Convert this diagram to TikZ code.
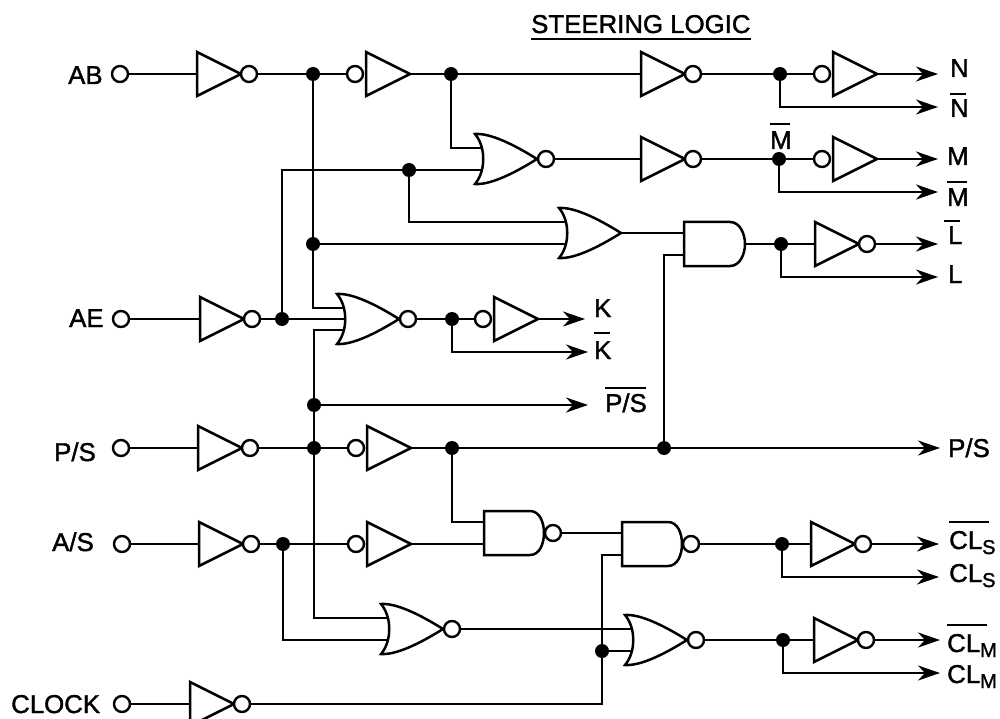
\documentclass[tikz,border=0pt]{standalone}
\usepackage{fontspec}
\setmainfont{Liberation Sans}[FakeBold=1.5]
\usetikzlibrary{arrows.meta}
\newcommand\ovbar[3]{\vbox{\hrule width #1 height 2.2pt \kern #2 \hbox{#3}}}
\newcommand\subs[1]{\raisebox{-5pt}{\fontsize{20}{20}\selectfont #1}}
\tikzset{
  x=1pt,y=-1pt,
  wire/.style={line width=2.4pt,line join=miter},
  sig/.style={wire,-{Stealth[length=22pt,width=15pt,inset=7pt]}},
  gatebody/.style={line width=2.5pt,draw=black,fill=white,line join=miter},
  bubble/.style={line width=2.4pt,draw=black,fill=white},
  pinn/.style={circle,draw=black,fill=white,line width=2.4pt,minimum size=16pt,inner sep=0pt},
  dotn/.style={circle,fill=black,minimum size=14pt,inner sep=0pt},
  lab/.style={inner sep=0pt,anchor=base west,font=\fontsize{25.8}{30}\selectfont},
  invr/.pic={
    \draw[gatebody] (0,-22) -- (44,0) -- (0,22) -- cycle;
    \draw[bubble] (52,0) circle (8);
    \coordinate (-in) at (0,0);
    \coordinate (-out) at (60,0);
  },
  invl/.pic={
    \draw[gatebody] (0,-22) -- (44,0) -- (0,22) -- cycle;
    \draw[bubble] (-11,0) circle (8);
    \coordinate (-in) at (-19,0);
    \coordinate (-out) at (44,0);
  },
  orbody/.pic={
    \draw[gatebody] (0,-25) .. controls (15,-26) and (38,-15) .. (62,0)
      .. controls (38,15) and (15,26) .. (0,25)
      .. controls (11,12) and (11,-12) .. (0,-25) -- cycle;
    \coordinate (-a) at (6,-11);
    \coordinate (-b) at (6,11);
    \coordinate (-m) at (8,0);
    \coordinate (-out) at (62,0);
  },
  norbody/.pic={
    \draw[gatebody] (0,-25) .. controls (15,-26) and (38,-15) .. (62,0)
      .. controls (38,15) and (15,26) .. (0,25)
      .. controls (11,12) and (11,-12) .. (0,-25) -- cycle;
    \draw[bubble] (71,0) circle (8);
    \coordinate (-a) at (6,-11);
    \coordinate (-b) at (6,11);
    \coordinate (-m) at (8,0);
    \coordinate (-out) at (79,0);
  },
  andbody/.pic={
    \draw[gatebody] (0,-22) -- (46,-22) .. controls (56,-22) and (61,-10) .. (61,0)
      .. controls (61,10) and (56,22) .. (46,22) -- (0,22) -- cycle;
    \coordinate (-a) at (0,-11);
    \coordinate (-b) at (0,11);
    \coordinate (-out) at (61,0);
  },
  nandbody/.pic={
    \draw[gatebody] (0,-22) -- (46,-22) .. controls (56,-22) and (60,-10) .. (60,0)
      .. controls (60,10) and (56,22) .. (46,22) -- (0,22) -- cycle;
    \draw[bubble] (69,0) circle (8);
    \coordinate (-a) at (0,-11);
    \coordinate (-b) at (0,11);
    \coordinate (-out) at (77,0);
  },
}
\begin{document}
\begin{tikzpicture}
\clip (0,0) rectangle (1000,719);
\fill[white] (0,0) rectangle (1000,719);

% input pins
\node[pinn] (inab) at (120,74) {};
\node[pinn] (inae) at (121,319) {};
\node[pinn] (inps) at (121,448) {};
\node[pinn] (inas) at (122,544) {};
\node[pinn] (inck) at (122,704) {};

% junction dots
\node[dotn] (d1) at (313,74) {};
\node[dotn] (d2) at (451,74) {};
\node[dotn] (d3) at (780,74) {};
\node[dotn] (d4) at (779,159) {};
\node[dotn] (d5) at (282,319) {};
\node[dotn] (d6) at (409,170) {};
\node[dotn] (d7) at (313,244) {};
\node[dotn] (d8) at (781,244) {};
\node[dotn] (d9) at (314,405) {};
\node[dotn] (d10) at (314,448) {};
\node[dotn] (d11) at (452,319) {};
\node[dotn] (d12) at (452,448) {};
\node[dotn] (d13) at (664,448) {};
\node[dotn] (d14) at (283,544) {};
\node[dotn] (d15) at (602,651) {};
\node[dotn] (d16) at (782,544) {};
\node[dotn] (d17) at (783,640) {};

% gates
\pic (g1) at (197,74) {invr};
\pic (g2) at (366,74) {invl};
\pic (g3) at (641,74) {invr};
\pic (g4) at (833,74) {invl};
\pic (g5) at (641,159) {invr};
\pic (g6) at (833,159) {invl};
\pic (g7) at (815,244) {invr};
\pic (g8) at (200,319) {invr};
\pic (g9) at (494,319) {invl};
\pic (g10) at (198,448) {invr};
\pic (g11) at (367,448) {invl};
\pic (g12) at (199,544) {invr};
\pic (g13) at (367,544) {invl};
\pic (g14) at (190,704) {invr};
\pic (g15) at (811,544) {invr};
\pic (g16) at (814,640) {invr};
\pic (nor1) at (475,159) {norbody};
\pic (or1) at (559,233) {orbody};
\pic (and1) at (684,244) {andbody};
\pic (nor2) at (337,319) {norbody};
\pic (nand1) at (484,533) {nandbody};
\pic (nand2) at (622,544) {nandbody};
\pic (nor3) at (381,629) {norbody};
\pic (nor4) at (625,640) {norbody};

% arrow targets
\coordinate (tN) at (938,74);
\coordinate (tNb) at (938,107);
\coordinate (tM) at (938,159);
\coordinate (tMb) at (938,192);
\coordinate (tLb) at (938,244);
\coordinate (tL) at (938,277);
\coordinate (tK) at (585,319);
\coordinate (tKb) at (588,352);
\coordinate (tPSb) at (588,405);
\coordinate (tPS) at (940,448);
\coordinate (tCSb) at (939,544);
\coordinate (tCS) at (939,577);
\coordinate (tCMb) at (940,640);
\coordinate (tCM) at (940,673);

% wires
\draw[wire] (inab) -- (g1-in);
\draw[wire] (g1-out) -- (d1);
\draw[wire] (d1) -- (g2-in);
\draw[wire] (g2-out) -- (d2);
\draw[wire] (d2) -- (g3-in);
\draw[wire] (g3-out) -- (d3);
\draw[wire] (d3) -- (g4-in);
\draw[sig] (g4-out) -- (tN);
\draw[sig] (d3) |- (tNb);
\draw[wire] (d2) |- (nor1-a);
\draw[wire] (d6) -- (nor1-b);
\draw[wire] (nor1-out) -- (g5-in);
\draw[wire] (g5-out) -- (d4);
\draw[wire] (d4) -- (g6-in);
\draw[sig] (g6-out) -- (tM);
\draw[sig] (d4) |- (tMb);
\draw[wire] (d5) |- (d6);
\draw[wire] (d6) |- (or1-a);
\draw[wire] (d7) -- (or1-b);
\draw[wire] (or1-out) -- (and1-a);
\draw[wire] (and1-out) -- (d8);
\draw[wire] (d8) -- (g7-in);
\draw[sig] (g7-out) -- (tLb);
\draw[sig] (d8) |- (tL);
\draw[wire] (d1) -- (d7);
\draw[wire] (d7) |- (nor2-a);
\draw[wire] (inae) -- (g8-in);
\draw[wire] (g8-out) -- (d5);
\draw[wire] (d5) -- (nor2-m);
\draw[wire] (d9) |- (nor2-b);
\draw[wire] (d9) -- (d10);
\draw[sig] (d9) -- (tPSb);
\draw[wire] (nor2-out) -- (d11);
\draw[wire] (d11) -- (g9-in);
\draw[sig] (g9-out) -- (tK);
\draw[sig] (d11) |- (tKb);
\draw[wire] (inps) -- (g10-in);
\draw[wire] (g10-out) -- (d10);
\draw[wire] (d10) -- (g11-in);
\draw[wire] (g11-out) -- (d12);
\draw[wire] (d12) -- (d13);
\draw[sig] (d13) -- (tPS);
\draw[wire] (d13) |- (and1-b);
\draw[wire] (d12) |- (nand1-a);
\draw[wire] (inas) -- (g12-in);
\draw[wire] (g12-out) -- (d14);
\draw[wire] (d14) -- (g13-in);
\draw[wire] (g13-out) -- (nand1-b);
\draw[wire] (d10) |- (nor3-a);
\draw[wire] (d14) |- (nor3-b);
\draw[wire] (nor3-out) -- (nor4-a);
\draw[wire] (nand1-out) -- (nand2-a);
\draw[wire] (inck) -- (g14-in);
\draw[wire] (g14-out) -| (d15);
\draw[wire] (d15) -- (nor4-b);
\draw[wire] (d15) |- (nand2-b);
\draw[wire] (nand2-out) -- (d16);
\draw[wire] (d16) -- (g15-in);
\draw[sig] (g15-out) -- (tCSb);
\draw[sig] (d16) |- (tCS);
\draw[wire] (nor4-out) -- (d17);
\draw[wire] (d17) -- (g16-in);
\draw[sig] (g16-out) -- (tCMb);
\draw[sig] (d17) |- (tCM);

% labels
\node[lab] (title) at (531,33) {\vtop{\hbox{STEERING LOGIC}\kern4.5pt\hrule height 2.2pt}};
\node[lab] (lAB) at (68,84) {AB};
\node[lab] (lAE) at (69,327) {AE};
\node[lab] (lPS) at (54,461) {P/S};
\node[lab] (lAS) at (52,551) {A/S};
\node[lab] (lCK) at (11,713) {CLOCK};
\node[lab] (oN) at (950,77) {N};
\node[lab] (oNb) at (950,117) {\ovbar{16pt}{4pt}{N}};
\node[lab] (oMt) at (770,149) {\ovbar{20pt}{6pt}{M}};
\node[lab] (oM) at (947,165) {M};
\node[lab] (oMb) at (947,206) {\ovbar{20pt}{5pt}{M}};
\node[lab] (oLb) at (944,244) {\ovbar{16pt}{4pt}{\kern4pt L}};
\node[lab] (oL) at (948,283) {L};
\node[lab] (oK) at (594,317) {K};
\node[lab] (oKb) at (594,359) {\ovbar{16pt}{7pt}{K}};
\node[lab] (oPSb) at (605,412) {\ovbar{41pt}{4pt}{P/S}};
\node[lab] (oPS) at (948,457) {P/S};
\node[lab] (oCSb) at (949,549) {\ovbar{40pt}{8pt}{CL\subs{S}}};
\node[lab] (oCS) at (949,582) {CL\subs{S}};
\node[lab] (oCMb) at (947,652) {\ovbar{40pt}{8pt}{CL\subs{M}}};
\node[lab] (oCM) at (947,683) {CL\subs{M}};
\end{tikzpicture}
\end{document}
